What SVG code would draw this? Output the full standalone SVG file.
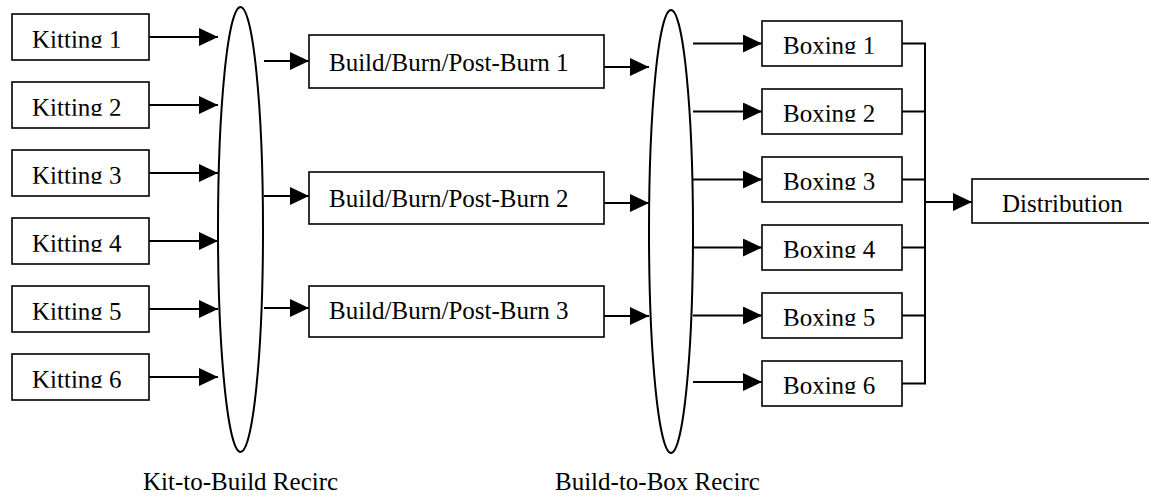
<svg xmlns="http://www.w3.org/2000/svg" width="1149" height="496" viewBox="0 0 1149 496">
  <style>
    .box { fill: #ffffff; stroke: #000000; stroke-width: 1.6; }
    .pool { fill: none; stroke: #000000; stroke-width: 2; }
    .lbl { font-family: "Liberation Serif", "Times New Roman", serif; font-size: 25px; fill: #000000; }
    .wire { fill: none; stroke: #000000; stroke-width: 2; }
    .arrow { fill: none; stroke: #000000; stroke-width: 2; marker-end: url(#head); }
  </style>
  <defs>
    <marker id="head" viewBox="0 0 19 18" refX="19" refY="9" markerWidth="19" markerHeight="18" markerUnits="userSpaceOnUse" orient="auto">
      <path d="M0,0 L19,9 L0,18 Z" fill="#000000"/>
    </marker>
    <!-- trims glyph descenders at the baseline -->
    <clipPath id="baseline" clipPathUnits="objectBoundingBox">
      <rect x="-0.1" y="-0.2" width="1.2" height="1.01"/>
    </clipPath>
  </defs>

  <rect width="1149" height="496" fill="#ffffff"/>

  <!-- kitting stations -->
  <g id="kitting1"><rect class="box" x="12" y="14" width="137" height="46"/><text class="lbl" x="32" y="48" clip-path="url(#baseline)">Kitting 1</text></g>
  <g id="kitting2"><rect class="box" x="12" y="82" width="137" height="46"/><text class="lbl" x="32" y="116" clip-path="url(#baseline)">Kitting 2</text></g>
  <g id="kitting3"><rect class="box" x="12" y="150" width="137" height="46"/><text class="lbl" x="32" y="184" clip-path="url(#baseline)">Kitting 3</text></g>
  <g id="kitting4"><rect class="box" x="12" y="218" width="137" height="46"/><text class="lbl" x="32" y="252" clip-path="url(#baseline)">Kitting 4</text></g>
  <g id="kitting5"><rect class="box" x="12" y="286" width="137" height="46"/><text class="lbl" x="32" y="320" clip-path="url(#baseline)">Kitting 5</text></g>
  <g id="kitting6"><rect class="box" x="12" y="354" width="137" height="46"/><text class="lbl" x="32" y="388" clip-path="url(#baseline)">Kitting 6</text></g>

  <!-- recirculation loops -->
  <g id="kit-to-build">
    <ellipse class="pool" cx="240.5" cy="229.5" rx="22.5" ry="222.5"/>
    <text class="lbl" x="143" y="490">Kit-to-Build Recirc</text>
  </g>
  <g id="build-to-box">
    <ellipse class="pool" cx="671" cy="231.5" rx="22" ry="221.5"/>
    <text class="lbl" x="555" y="490">Build-to-Box Recirc</text>
  </g>

  <!-- build lines -->
  <g id="build1"><rect class="box" x="309" y="35" width="295" height="53"/><text class="lbl" x="329" y="71">Build/Burn/Post-Burn 1</text></g>
  <g id="build2"><rect class="box" x="309" y="172" width="295" height="52"/><text class="lbl" x="329" y="207">Build/Burn/Post-Burn 2</text></g>
  <g id="build3"><rect class="box" x="309" y="286" width="295" height="51"/><text class="lbl" x="329" y="319">Build/Burn/Post-Burn 3</text></g>

  <!-- boxing stations -->
  <g id="boxing1"><rect class="box" x="762" y="21" width="140" height="45"/><text class="lbl" x="783" y="54" clip-path="url(#baseline)">Boxing 1</text></g>
  <g id="boxing2"><rect class="box" x="762" y="89" width="140" height="45"/><text class="lbl" x="783" y="122" clip-path="url(#baseline)">Boxing 2</text></g>
  <g id="boxing3"><rect class="box" x="762" y="157" width="140" height="45"/><text class="lbl" x="783" y="190" clip-path="url(#baseline)">Boxing 3</text></g>
  <g id="boxing4"><rect class="box" x="762" y="225" width="140" height="45"/><text class="lbl" x="783" y="258" clip-path="url(#baseline)">Boxing 4</text></g>
  <g id="boxing5"><rect class="box" x="762" y="293" width="140" height="45"/><text class="lbl" x="783" y="326" clip-path="url(#baseline)">Boxing 5</text></g>
  <g id="boxing6"><rect class="box" x="762" y="361" width="140" height="45"/><text class="lbl" x="783" y="394" clip-path="url(#baseline)">Boxing 6</text></g>

  <!-- distribution -->
  <g id="distribution"><rect class="box" x="972" y="179" width="180" height="44"/><text class="lbl" x="1002" y="212">Distribution</text></g>

  <g id="connectors">
    <!-- kitting into loop -->
    <path class="arrow" d="M149,37 H218"/>
    <path class="arrow" d="M149,105 H218"/>
    <path class="arrow" d="M149,173 H218"/>
    <path class="arrow" d="M149,241 H218"/>
    <path class="arrow" d="M149,309 H218"/>
    <path class="arrow" d="M149,377 H218"/>
    <!-- loop into build -->
    <path class="arrow" d="M264,61 H309"/>
    <path class="arrow" d="M264,196 H309"/>
    <path class="arrow" d="M264,308 H309"/>
    <!-- build into loop -->
    <path class="arrow" d="M604,67 H649"/>
    <path class="arrow" d="M604,203 H649"/>
    <path class="arrow" d="M604,316 H649"/>
    <!-- loop into boxing -->
    <path class="arrow" d="M693,43.5 H762"/>
    <path class="arrow" d="M693,111.5 H762"/>
    <path class="arrow" d="M693,179.5 H762"/>
    <path class="arrow" d="M693,247.5 H762"/>
    <path class="arrow" d="M693,315.5 H762"/>
    <path class="arrow" d="M693,382 H762"/>
    <!-- boxing collector bus -->
    <path class="wire" d="M902,43.5 H925 M902,111.5 H925 M902,179.5 H925 M902,247.5 H925 M902,315.5 H925 M902,383.5 H925 M925,42.5 V384.5"/>
    <path class="arrow" d="M925,202 H972"/>
  </g>
</svg>
